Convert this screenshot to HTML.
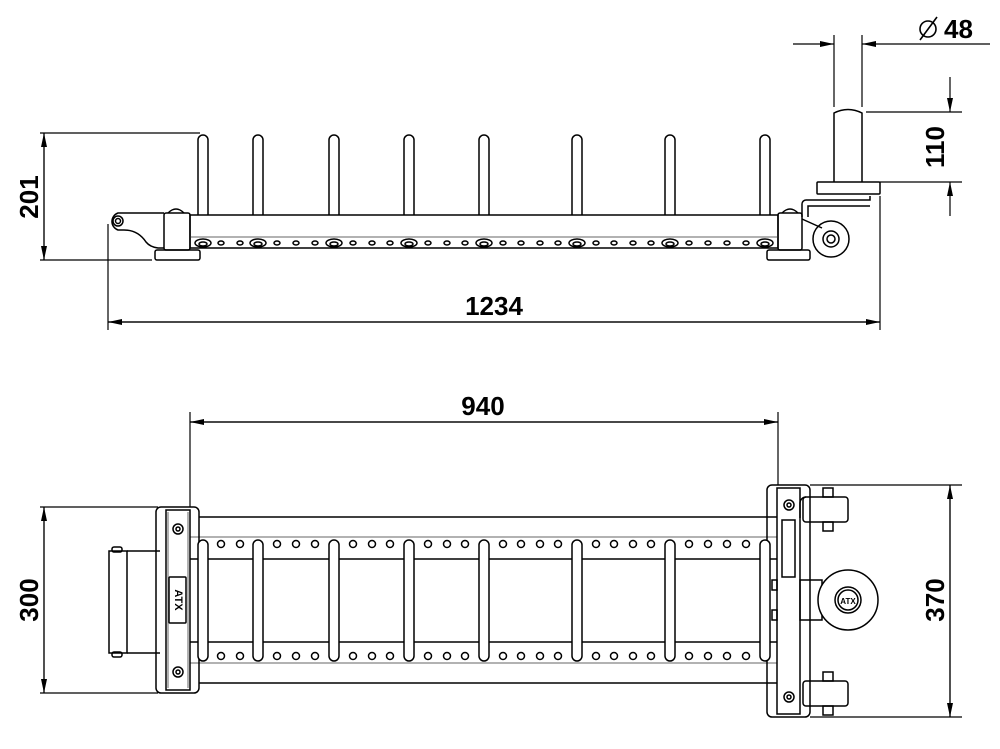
<!DOCTYPE html>
<html><head><meta charset="utf-8"><style>
html,body{margin:0;padding:0;background:#fff}
svg{display:block}
text{font-family:"Liberation Sans",sans-serif;font-weight:bold;font-size:26px;fill:#000}
</style></head><body>
<svg width="1000" height="749" viewBox="0 0 1000 749" xmlns="http://www.w3.org/2000/svg">
<defs>
<marker id="a" markerWidth="14" markerHeight="8" refX="14" refY="4" orient="auto" markerUnits="userSpaceOnUse"><path d="M0,1 L14,4 L0,7 Z" fill="#000"/></marker>
</defs>
<g stroke="#000" stroke-width="1.2" fill="none">
<line x1="40" y1="133" x2="200" y2="133"/>
<line x1="40" y1="260" x2="152" y2="260"/>
<line x1="44" y1="260" x2="44" y2="133" marker-end="url(#a)"/>
<line x1="44" y1="133" x2="44" y2="260" marker-end="url(#a)"/>
<line x1="108" y1="224" x2="108" y2="330"/>
<line x1="880" y1="196" x2="880" y2="330"/>
<line x1="108" y1="322" x2="880" y2="322" marker-end="url(#a)"/>
<line x1="880" y1="322" x2="108" y2="322" marker-end="url(#a)"/>
<line x1="834" y1="35" x2="834" y2="107"/>
<line x1="862" y1="35" x2="862" y2="107"/>
<line x1="793" y1="44" x2="834" y2="44" marker-end="url(#a)"/>
<line x1="990" y1="44" x2="862" y2="44" marker-end="url(#a)"/>
<line x1="866" y1="112" x2="962" y2="112"/>
<line x1="880" y1="182" x2="962" y2="182"/>
<line x1="950" y1="77" x2="950" y2="112" marker-end="url(#a)"/>
<line x1="950" y1="216" x2="950" y2="182" marker-end="url(#a)"/>
<g stroke-width="1.5">
<path d="M198,215 V140 a5,5 0 0 1 10,0 V215"/>
<path d="M253,215 V140 a5,5 0 0 1 10,0 V215"/>
<path d="M329,215 V140 a5,5 0 0 1 10,0 V215"/>
<path d="M404,215 V140 a5,5 0 0 1 10,0 V215"/>
<path d="M479,215 V140 a5,5 0 0 1 10,0 V215"/>
<path d="M572,215 V140 a5,5 0 0 1 10,0 V215"/>
<path d="M665,215 V140 a5,5 0 0 1 10,0 V215"/>
<path d="M760,215 V140 a5,5 0 0 1 10,0 V215"/>
<rect x="190" y="215" width="588" height="33"/>
<line x1="190" y1="237" x2="778" y2="237" stroke="#999"/>
<rect x="164" y="213" width="26" height="37" rx="2"/>
<path d="M168,213 q8,-8 16,0"/>
<rect x="155" y="250" width="45" height="10" rx="2"/>
<path d="M164,213 H118 a9,9 0 0 0 0,17 H124 q14,0 22,12 q4,5 12,6 H164"/>
<circle cx="118" cy="221" r="5"/><circle cx="118" cy="221" r="2.5"/>
<rect x="778" y="213" width="24" height="37" rx="2"/>
<path d="M782,213 q8,-8 16,0"/>
<rect x="767" y="250" width="43" height="10" rx="2"/>
<path d="M802,217 V204 a4,4 0 0 1 4,-4 H870 V196"/>
<path d="M808,217 V206 H870"/>
<rect x="817" y="182" width="63" height="12" rx="1"/>
<path d="M834,182 V113 q14,-7 28,0 V182"/>
<path d="M802,219 L822,228"/>
<circle cx="831" cy="239" r="18"/>
<circle cx="831" cy="239" r="8"/><circle cx="831" cy="239" r="4"/>
</g>
<g stroke-width="1.5">
<ellipse cx="203" cy="243" rx="8" ry="4"/><ellipse cx="258" cy="243" rx="8" ry="4"/><ellipse cx="334" cy="243" rx="8" ry="4"/><ellipse cx="409" cy="243" rx="8" ry="4"/><ellipse cx="484" cy="243" rx="8" ry="4"/><ellipse cx="577" cy="243" rx="8" ry="4"/><ellipse cx="670" cy="243" rx="8" ry="4"/><ellipse cx="765" cy="243" rx="8" ry="4"/>
<ellipse cx="203" cy="244" rx="4" ry="2"/><ellipse cx="258" cy="244" rx="4" ry="2"/><ellipse cx="334" cy="244" rx="4" ry="2"/><ellipse cx="409" cy="244" rx="4" ry="2"/><ellipse cx="484" cy="244" rx="4" ry="2"/><ellipse cx="577" cy="244" rx="4" ry="2"/><ellipse cx="670" cy="244" rx="4" ry="2"/><ellipse cx="765" cy="244" rx="4" ry="2"/>
</g>
<g stroke-width="1.5">
<ellipse cx="221" cy="243" rx="3" ry="2"/><ellipse cx="240" cy="243" rx="3" ry="2"/>
<ellipse cx="277" cy="243" rx="3" ry="2"/><ellipse cx="296" cy="243" rx="3" ry="2"/><ellipse cx="315" cy="243" rx="3" ry="2"/>
<ellipse cx="353" cy="243" rx="3" ry="2"/><ellipse cx="372" cy="243" rx="3" ry="2"/><ellipse cx="390" cy="243" rx="3" ry="2"/>
<ellipse cx="428" cy="243" rx="3" ry="2"/><ellipse cx="447" cy="243" rx="3" ry="2"/><ellipse cx="465" cy="243" rx="3" ry="2"/>
<ellipse cx="503" cy="243" rx="3" ry="2"/><ellipse cx="521" cy="243" rx="3" ry="2"/><ellipse cx="540" cy="243" rx="3" ry="2"/><ellipse cx="558" cy="243" rx="3" ry="2"/>
<ellipse cx="596" cy="243" rx="3" ry="2"/><ellipse cx="614" cy="243" rx="3" ry="2"/><ellipse cx="633" cy="243" rx="3" ry="2"/><ellipse cx="651" cy="243" rx="3" ry="2"/>
<ellipse cx="689" cy="243" rx="3" ry="2"/><ellipse cx="708" cy="243" rx="3" ry="2"/><ellipse cx="727" cy="243" rx="3" ry="2"/><ellipse cx="746" cy="243" rx="3" ry="2"/>
</g>
<line x1="190" y1="412" x2="190" y2="507"/>
<line x1="778" y1="412" x2="778" y2="485"/>
<line x1="190" y1="422" x2="778" y2="422" marker-end="url(#a)"/>
<line x1="778" y1="422" x2="190" y2="422" marker-end="url(#a)"/>
<line x1="40" y1="507" x2="158" y2="507"/>
<line x1="40" y1="693" x2="158" y2="693"/>
<line x1="44" y1="693" x2="44" y2="507" marker-end="url(#a)"/>
<line x1="44" y1="507" x2="44" y2="693" marker-end="url(#a)"/>
<line x1="810" y1="485" x2="962" y2="485"/>
<line x1="810" y1="717" x2="962" y2="717"/>
<line x1="950" y1="717" x2="950" y2="485" marker-end="url(#a)"/>
<line x1="950" y1="485" x2="950" y2="717" marker-end="url(#a)"/>
<g stroke-width="1.5">
<path d="M199,517 H778 M190,559 H778 M190,642 H778 M199,683 H778"/>
<path d="M190,537 H778 M190,663 H778" stroke="#999"/>
<rect x="109" y="551" width="18" height="102"/>
<path d="M127,551 H160 M127,653 H160"/>
<rect x="112" y="547" width="10" height="5" rx="2"/><rect x="112" y="652" width="10" height="5" rx="2"/>
<rect x="156" y="507" width="43" height="186" rx="5"/>
<rect x="166" y="510" width="24" height="180" fill="#fff"/>
<line x1="168" y1="512" x2="168" y2="688" stroke="#999"/><line x1="188" y1="512" x2="188" y2="688" stroke="#999"/>
<circle cx="178" cy="529" r="5"/><circle cx="178" cy="529" r="2"/>
<circle cx="178" cy="672" r="5"/><circle cx="178" cy="672" r="2"/>
<rect x="169" y="577" width="17" height="46" rx="1"/>
<rect x="767" y="485" width="43" height="232" rx="5"/>
<rect x="777" y="488" width="23" height="226" fill="#fff"/>
<circle cx="789" cy="505" r="5"/><circle cx="789" cy="505" r="2"/>
<circle cx="789" cy="697" r="5"/><circle cx="789" cy="697" r="2"/>
<rect x="782" y="520" width="13" height="57"/>
<rect x="772" y="580" width="5" height="10"/><rect x="772" y="610" width="5" height="10"/>
<rect x="803" y="497" width="45" height="25" rx="3"/>
<path d="M806,497 a6,6 0 0 0 -6,6 V518"/>
<rect x="823" y="488" width="10" height="9"/><rect x="823" y="522" width="10" height="9"/>
<rect x="803" y="681" width="45" height="25" rx="3"/>
<rect x="823" y="672" width="10" height="9"/><rect x="823" y="706" width="10" height="9"/>
<rect x="800" y="580" width="22" height="40"/>
<circle cx="848" cy="600" r="30" fill="#fff"/>
<circle cx="848" cy="600" r="13"/><circle cx="848" cy="600" r="10"/>
<rect x="198" y="540" width="10" height="121" rx="5" fill="#fff"/>
<rect x="253" y="540" width="10" height="121" rx="5" fill="#fff"/>
<rect x="329" y="540" width="10" height="121" rx="5" fill="#fff"/>
<rect x="404" y="540" width="10" height="121" rx="5" fill="#fff"/>
<rect x="479" y="540" width="10" height="121" rx="5" fill="#fff"/>
<rect x="572" y="540" width="10" height="121" rx="5" fill="#fff"/>
<rect x="665" y="540" width="10" height="121" rx="5" fill="#fff"/>
<rect x="760" y="540" width="10" height="121" rx="5" fill="#fff"/>
</g>
<g stroke-width="1.5">
<circle cx="221" cy="544" r="3.5"/><circle cx="240" cy="544" r="3.5"/><circle cx="277" cy="544" r="3.5"/><circle cx="296" cy="544" r="3.5"/><circle cx="315" cy="544" r="3.5"/><circle cx="353" cy="544" r="3.5"/><circle cx="372" cy="544" r="3.5"/><circle cx="390" cy="544" r="3.5"/><circle cx="428" cy="544" r="3.5"/><circle cx="447" cy="544" r="3.5"/><circle cx="465" cy="544" r="3.5"/><circle cx="503" cy="544" r="3.5"/><circle cx="521" cy="544" r="3.5"/><circle cx="540" cy="544" r="3.5"/><circle cx="558" cy="544" r="3.5"/><circle cx="596" cy="544" r="3.5"/><circle cx="614" cy="544" r="3.5"/><circle cx="633" cy="544" r="3.5"/><circle cx="651" cy="544" r="3.5"/><circle cx="689" cy="544" r="3.5"/><circle cx="708" cy="544" r="3.5"/><circle cx="727" cy="544" r="3.5"/><circle cx="746" cy="544" r="3.5"/>
<circle cx="221" cy="656" r="3.5"/><circle cx="240" cy="656" r="3.5"/><circle cx="277" cy="656" r="3.5"/><circle cx="296" cy="656" r="3.5"/><circle cx="315" cy="656" r="3.5"/><circle cx="353" cy="656" r="3.5"/><circle cx="372" cy="656" r="3.5"/><circle cx="390" cy="656" r="3.5"/><circle cx="428" cy="656" r="3.5"/><circle cx="447" cy="656" r="3.5"/><circle cx="465" cy="656" r="3.5"/><circle cx="503" cy="656" r="3.5"/><circle cx="521" cy="656" r="3.5"/><circle cx="540" cy="656" r="3.5"/><circle cx="558" cy="656" r="3.5"/><circle cx="596" cy="656" r="3.5"/><circle cx="614" cy="656" r="3.5"/><circle cx="633" cy="656" r="3.5"/><circle cx="651" cy="656" r="3.5"/><circle cx="689" cy="656" r="3.5"/><circle cx="708" cy="656" r="3.5"/><circle cx="727" cy="656" r="3.5"/><circle cx="746" cy="656" r="3.5"/>
</g>
</g>
<text x="178" y="600" transform="rotate(90 178 600)" text-anchor="middle" dominant-baseline="middle" style="font-size:11px">ATX</text>
<text x="848" y="604" text-anchor="middle" style="font-size:8px">ATX</text>
<text x="494" y="315" text-anchor="middle">1234</text>
<text x="483" y="415" text-anchor="middle">940</text>
<text transform="translate(38,197) rotate(-90)" text-anchor="middle">201</text>
<text transform="translate(38,600) rotate(-90)" text-anchor="middle">300</text>
<text transform="translate(944,147) rotate(-90)" text-anchor="middle">110</text>
<text transform="translate(944,600) rotate(-90)" text-anchor="middle">370</text>
<text x="944" y="38">48</text>
<g stroke="#000" stroke-width="1.6" fill="none"><circle cx="928" cy="29" r="8"/><line x1="920" y1="40" x2="937" y2="17"/></g>
</svg>
</body></html>
